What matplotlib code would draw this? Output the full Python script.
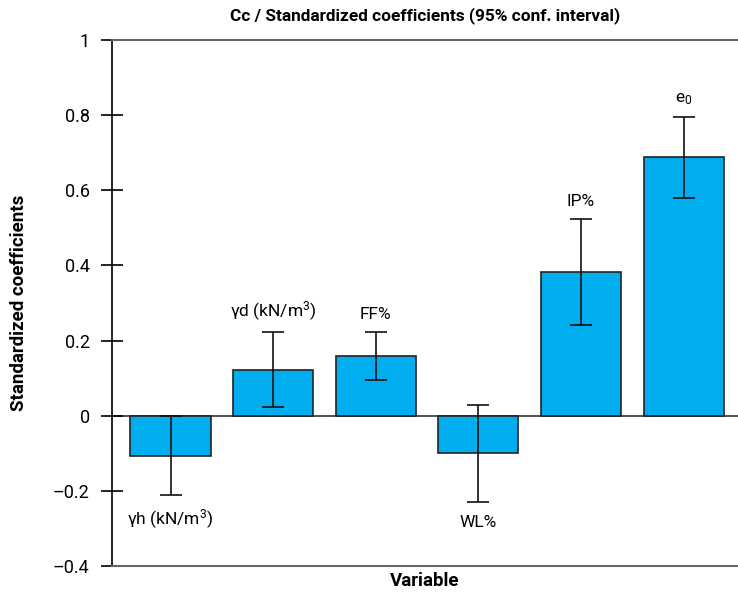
import matplotlib
matplotlib.use("Agg")
import matplotlib.pyplot as plt
import numpy as np

plt.rcParams['font.family'] = ['Roboto', 'DejaVu Sans']
plt.rcParams['mathtext.fontset'] = 'custom'
plt.rcParams['mathtext.rm'] = 'Roboto'
plt.rcParams['mathtext.it'] = 'Roboto'
plt.rcParams['axes.unicode_minus'] = False

variables = ["\u03b3h (kN/m$^3$)", "\u03b3d (kN/m$^3$)", "FF%", "WL%", "IP%", "e$_0$"]
coefs = [-0.107, 0.122, 0.159, -0.099, 0.382, 0.688]
ci_low = [-0.210, 0.023, 0.095, -0.230, 0.241, 0.579]
ci_high = [0.000, 0.222, 0.223, 0.028, 0.523, 0.795]

BarColour = '#00aeef'

fig = plt.figure(figsize=(7.38, 5.96), dpi=100)
ax = fig.add_axes([0.1518, 0.0503, 0.8482, 0.8826])

x = np.arange(len(variables))
coefs_a = np.array(coefs)
yerr = [coefs_a - np.array(ci_low), np.array(ci_high) - coefs_a]
ax.bar(x, coefs, width=0.78, color=BarColour, edgecolor='#222222', linewidth=1.2, zorder=2)
ax.errorbar(x, coefs, yerr=yerr, fmt='none', ecolor='#111111', elinewidth=1.2,
            capsize=8, capthick=1.2, zorder=3)
ax.axhline(0, color='#333333', linewidth=1.2, zorder=1)

for i, name in enumerate(variables):
    if coefs[i] >= 0:
        ax.annotate(name, (x[i], ci_high[i]), xytext=(0, 7), textcoords='offset points',
                    ha='center', va='bottom', fontsize=12.5)
    else:
        ax.annotate(name, (x[i], ci_low[i]), xytext=(0, -9), textcoords='offset points',
                    ha='center', va='top', fontsize=12.5)

ax.set_xlim(-0.57, 5.53)
ax.set_ylim(-0.4, 1.0)
ax.set_yticks([-0.4, -0.2, 0, 0.2, 0.4, 0.6, 0.8, 1])
ax.set_yticklabels(["\u20130.4", "\u20130.2", "0", "0.2", "0.4", "0.6", "0.8", "1"])
ax.set_xticks([])
ax.tick_params(axis='y', direction='inout', length=16, width=1.2, labelsize=13, pad=8)

for side in ['top', 'bottom']:
    ax.spines[side].set_color('#666666')
    ax.spines[side].set_linewidth(1.5)
ax.spines['right'].set_visible(False)
ax.spines['left'].set_linewidth(1.2)

ax.set_title("Cc / Standardized coefficients (95% conf. interval)", fontsize=12.4,
             fontweight='bold', pad=14)
ax.set_xlabel("Variable", fontsize=13.5, fontweight='bold', labelpad=4)
ax.set_ylabel("Standardized coefficients", fontsize=13.5, fontweight='bold', labelpad=18)

fig.savefig("out.png", dpi=100)
